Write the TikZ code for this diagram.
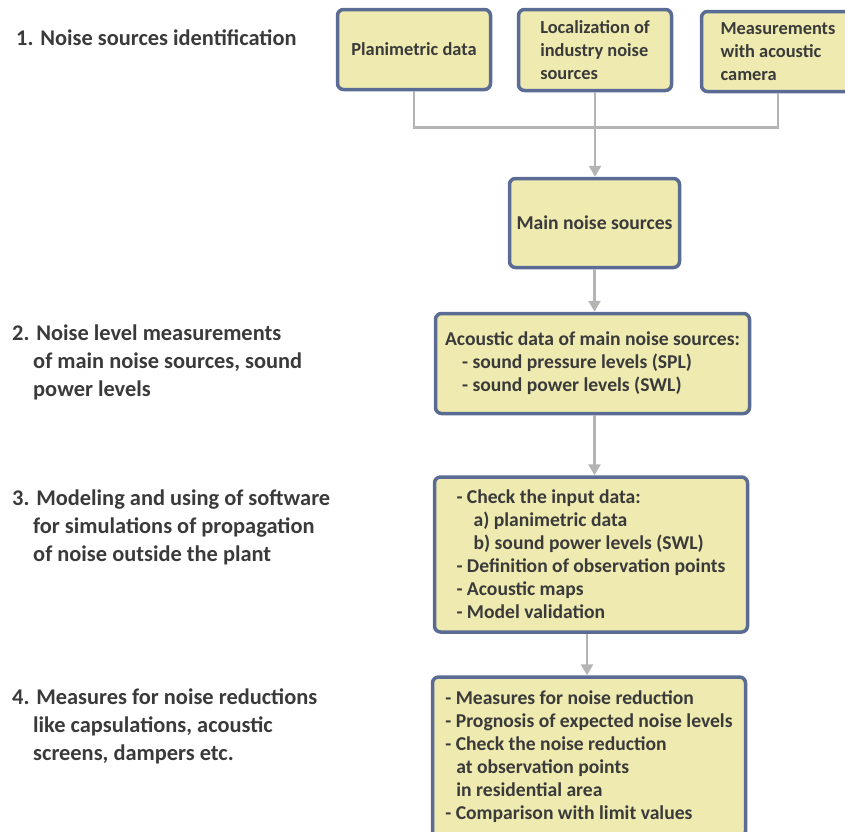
\documentclass[tikz,border=0pt]{standalone}
\usepackage{fontspec}
\setmainfont{Carlito}
\usepackage{xcolor}
\usetikzlibrary{arrows.meta, positioning}

\definecolor{boxfill}{HTML}{EEEAB0}
\definecolor{boxline}{HTML}{5A6C94}
\definecolor{txtgray}{HTML}{3A3A3A}
\definecolor{linkgray}{HTML}{B4B4B4}

\begin{document}
\begin{tikzpicture}[
  x=1pt, y=-1pt,
  every node/.style={text=txtgray},
  box/.style={rectangle, draw=boxline, line width=3.5pt, rounded corners=6pt, fill=boxfill,
    align=left, inner sep=0pt, font=\fontsize{18.4}{22.6}\selectfont\bfseries},
  bigbox/.style={box, font=\fontsize{19.6}{23}\selectfont\bfseries},
  stage/.style={anchor=north west, align=left, inner sep=0pt,
    font=\fontsize{22.4}{27.8}\selectfont\bfseries},
  link/.style={draw=linkgray, line width=2.5pt},
  arrow/.style={link, -{Triangle[width=12pt, length=11pt]}}
]
  \useasboundingbox (0,0) rectangle (845,831);

  % stage labels
  \node[stage] (s1) at (16,30) {1. Noise sources identification};
  \node[stage] (s2) at (12,325) {2. Noise level measurements\\\hspace{21pt}of main noise sources, sound\\\hspace{21pt}power levels};
  \node[stage] (s3) at (12,490) {3. Modeling and using of software\\\hspace{21pt}for simulations of propagation\\\hspace{21pt}of noise outside the plant};
  \node[stage] (s4) at (12,689) {4. Measures for noise reductions\\\hspace{21pt}like capsulations, acoustic\\\hspace{21pt}screens, dampers etc.};

  % boxes
  \node[box, minimum width=153pt, minimum height=80pt] (plan) at (414,49.5) {Planimetric data};
  \node[box, minimum width=153pt, minimum height=81pt] (loc) at (595,50) {Localization of\\industry noise\\sources};
  \node[box, minimum width=153pt, minimum height=80pt] (cam) at (778,51.5) {Measurements\\with acoustic\\camera};
  \node[bigbox, minimum width=170pt, minimum height=89pt] (main) at (594.5,223) {Main noise sources};
  \node[bigbox, minimum width=314pt, minimum height=100pt] (acou) at (592.5,363.5) {Acoustic data of main noise sources:\\\hspace{17pt}- sound pressure levels (SPL)\\\hspace{17pt}- sound power levels (SWL)};
  \node[bigbox, minimum width=313pt, minimum height=155pt] (check) at (591,554.5) {- Check the input data:\\\hspace{17pt}a) planimetric data\\\hspace{17pt}b) sound power levels (SWL)\\- Definition of observation points\\- Acoustic maps\\- Model validation};
  \node[bigbox, minimum width=313pt, minimum height=160pt] (meas) at (589,757) {- Measures for noise reduction\\- Prognosis of expected noise levels\\- Check the noise reduction\\\hspace{11pt}at observation points\\\hspace{11pt}in residential area\\- Comparison with limit values};

  % connectors
  \coordinate (jn) at ([yshift=-35pt]loc.south);
  \draw[link] (plan.south) |- (jn) -| (cam.south);
  \draw[link] (loc.south) -- (jn);
  \draw[arrow] (jn) -- (jn |- main.north);
  \draw[arrow] (main.south) -- (main.south |- acou.north);
  \draw[arrow] (acou.south -| main.south) -- (main.south |- check.north);
  \draw[arrow] ([xshift=-4pt]check.south) -- ([xshift=-4pt]check.south |- meas.north);
\end{tikzpicture}
\end{document}
